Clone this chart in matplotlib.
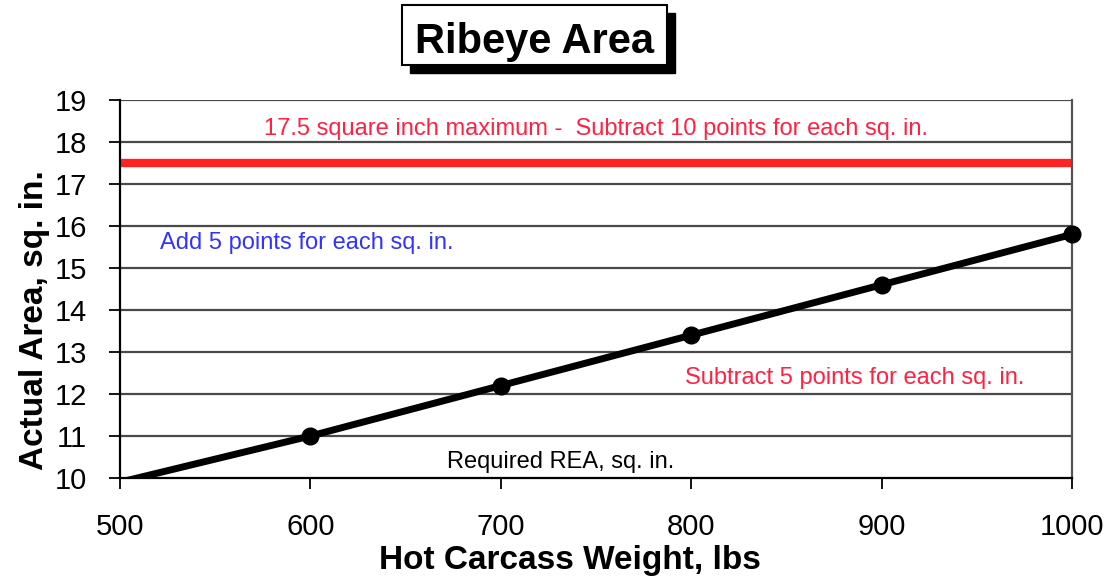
import numpy as np
import matplotlib.pyplot as plt
from matplotlib.patches import Rectangle

# Required ribeye area line (sq. in.) vs hot carcass weight (lbs)
weights = [500, 600, 700, 800, 900, 1000]
rea = [9.9, 11.0, 12.2, 13.4, 14.6, 15.8]
marker_weights = [600, 700, 800, 900, 1000]
marker_rea = [11.0, 12.2, 13.4, 14.6, 15.8]
max_rea = 17.5

x_ticks = [500, 600, 700, 800, 900, 1000]
y_ticks = list(range(10, 20))

plt.rcParams['font.family'] = ['Liberation Sans', 'DejaVu Sans']

fig = plt.figure(figsize=(11.08, 5.83), dpi=100)
W, H = 1108, 583
ax = fig.add_axes([120 / W, 1 - 478 / H, (1072 - 120) / W, (478 - 100) / H])

ax.set_xlim(500, 1000)
ax.set_ylim(10, 19)
ax.set_xticks(x_ticks)
ax.set_yticks(y_ticks)
ax.tick_params(axis='both', labelsize=21, direction='out', length=8, width=1.3)
ax.tick_params(axis='x', pad=17)
ax.tick_params(axis='y', pad=16)

# grid lines
for y in y_ticks[1:]:
    ax.axhline(y, color='#4a4a4a', lw=1.6, zorder=1)

ax.spines['top'].set_visible(False)
ax.spines['right'].set_color('#555555')
ax.spines['right'].set_linewidth(1.6)
ax.spines['left'].set_linewidth(1.6)
ax.spines['bottom'].set_linewidth(1.6)

# red maximum line
ax.axhline(max_rea, color='#FF2222', lw=6, zorder=2)

# required REA line
ax.plot(weights, rea, color='black', lw=5, zorder=3, clip_on=True)
ax.plot(marker_weights, marker_rea, 'o', color='black', ms=12, zorder=4, clip_on=False)

ax.text(750, 18.3, '17.5 square inch maximum -  Subtract 10 points for each sq. in.',
        color='#FF2244', fontsize=17, ha='center', va='center')
ax.text(521, 15.6, 'Add 5 points for each sq. in.', color='#3333FF', fontsize=17,
        ha='left', va='center')
ax.text(797, 12.38, 'Subtract 5 points for each sq. in.', color='#FF2244', fontsize=17,
        ha='left', va='center')
ax.text(672, 10.38, 'Required REA, sq. in.', color='black', fontsize=17,
        ha='left', va='center')

fig.text(570 / W, 1 - 560 / H, 'Hot Carcass Weight, lbs', fontsize=24, fontweight='bold',
         ha='center', va='center')
fig.text(35 / W, 1 - 320 / H, 'Actual Area, sq. in.', fontsize=24, fontweight='bold',
         ha='center', va='center', rotation=90)

# title box with shadow
bx0, bx1, by0, by1 = 402, 667, 5, 65
off = 8
fig.patches.append(Rectangle(((bx0 + off) / W, 1 - (by1 + off) / H), (bx1 - bx0) / W, (by1 - by0) / H,
                             transform=fig.transFigure, facecolor='black', edgecolor='black'))
fig.patches.append(Rectangle((bx0 / W, 1 - by1 / H), (bx1 - bx0) / W, (by1 - by0) / H,
                             transform=fig.transFigure, facecolor='white', edgecolor='black', lw=1.5))
fig.text((bx0 + bx1) / 2 / W, 1 - 53 / H, 'Ribeye Area', fontsize=30,
         fontweight='bold', ha='center', va='baseline')

fig.savefig('out.png', dpi=100)
